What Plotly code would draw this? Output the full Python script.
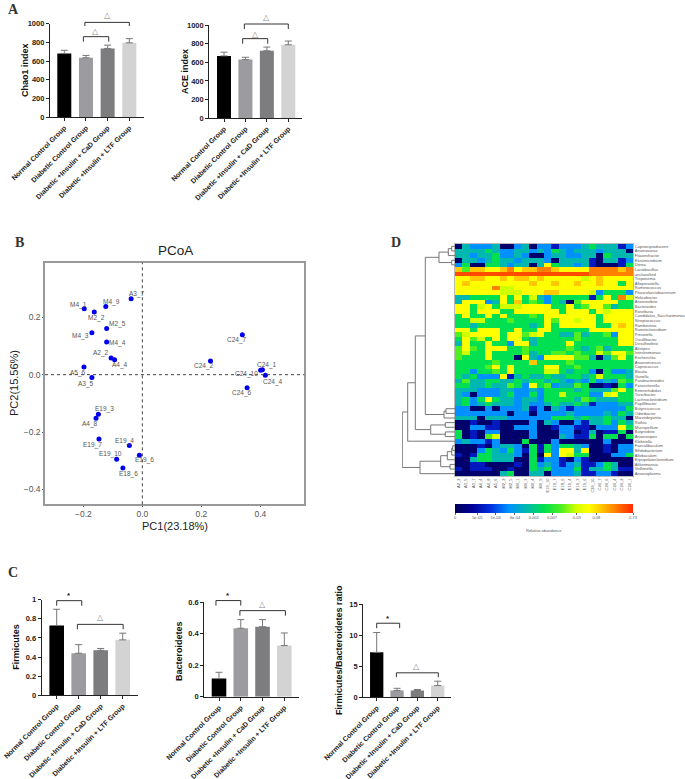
import plotly.graph_objects as go

W, H = 685, 779
FONT = "Liberation Sans"

groups = ["Normal Control Group", "Diabetic Control Group",
          "Diabetic +Insulin + CaD Group", "Diabetic +Insulin + LTF Group"]
bar_colors = ["#000000", "#9b9ba0", "#7d7d7f", "#d3d3d3"]

# panel A / C bars: means, upper error ends
chao1 = [680, 635, 735, 795]
chao1_err = [35, 25, 35, 45]
ace = [670, 630, 725, 790]
ace_err = [40, 25, 40, 40]
firmicutes = [0.73, 0.44, 0.47, 0.58]
firmicutes_err = [0.17, 0.09, 0.02, 0.07]
bacteroidetes = [0.115, 0.435, 0.445, 0.325]
bacteroidetes_err = [0.04, 0.055, 0.045, 0.08]
fb_ratio = [7.2, 1.05, 1.05, 1.85]
fb_ratio_err = [3.2, 0.35, 0.15, 0.7]

# panel B
pcoa_names = ["A3_7", "M4_9", "M4_1", "M2_2", "M2_5", "M4_3", "M4_4", "A2_2", "A4_4", "A5_6", "A3_5", "E19_3",
              "A4_8", "E19_7", "E19_4", "E19_6", "E19_10", "E18_6", "C24_7", "C24_2", "C24_1", "C24_10", "C24_4", "C24_6"]
pc1 = [-0.038, -0.124, -0.197, -0.163, -0.121, -0.171, -0.121, -0.106, -0.094, -0.198, -0.171, -0.149,
       -0.157, -0.147, -0.044, -0.010, -0.087, -0.066, 0.339, 0.231, 0.407, 0.401, 0.417, 0.355]
pc2 = [0.264, 0.237, 0.230, 0.218, 0.161, 0.146, 0.114, 0.058, 0.052, 0.027, -0.010, -0.138,
       -0.152, -0.224, -0.247, -0.281, -0.295, -0.325, 0.139, 0.048, 0.017, 0.015, -0.002, -0.046]
# label offset from its point, in px
label_dx = [6, 6, -6, 2, 11, -11, 11, -10, 5, -6, -6, 6, -6, -6, -5, 5, -6, 6, -5, -6, 5, -14, 8, -5]
label_dy = [-5, -5, -4, 6, -4, 3, 1, -5, 5, 6, 6, -5, 6, 6, -5, 5, -5, 6, 5, 5, -5, 4, 7, 5]

# panel D
samples = ["A2_2", "A3_5", "A3_7", "A4_4", "A4_8", "A5_6", "M2_2", "M2_5", "M4_1", "M4_3", "M4_4", "M4_9",
           "E19_10", "E19_7", "E18_6", "E19_4", "E19_3", "E19_6", "C24_10", "C24_7", "C24_6", "C24_4", "C24_2", "C24_1"]
genera = ["Caproiciproducens", "Anaerovorax", "Flavonifractor", "Elusimicrobium", "Dorea", "Lactobacillus",
          "unclassified", "Treponema", "Alloprevotella", "Ruminococcus", "Phascolarctobacterium", "Helicobacter",
          "Anaerovibrio", "Bacteroides", "Roseburia", "Candidatus_Saccharimonas", "Streptococcus", "Romboutsia",
          "Ruminiclostridium", "Prevotella", "Oscillibacter", "Desulfovibrio", "Alistipes", "Intestinimonas",
          "Escherichia", "Anaerotruncus", "Coprococcus", "Blautia", "Gunella", "Parabacteroides", "Parasutterella",
          "Enterorhabdus", "Turicibacter", "Lachnoclostridium", "Papillibacter", "Butyricicoccus", "Odoribacter",
          "Marvinbryantia", "Rothia", "Mucispirillum", "Butyrivibrio", "Anaerosipes", "Klebsiella", "Faecalibaculum",
          "Bifidobacterium", "Allobaculum", "Erysipelatoclostridium", "Akkermansia", "Veillonella", "Anaeroplasma"]
# colour level of each cell, 0 navy ... 10 red-orange
levels = [
    [0, 3, 2, 2, 2, 3, 0, 0, 2, 3, 0, 2, 2, 1, 2, 2, 2, 3, 4, 3, 3, 3, 1, 2],
    [3, 3, 3, 3, 4, 3, 2, 2, 3, 3, 2, 3, 2, 4, 3, 2, 3, 3, 3, 2, 3, 3, 3, 0],
    [3, 3, 2, 3, 3, 4, 2, 2, 3, 2, 0, 0, 2, 3, 3, 2, 2, 3, 3, 0, 4, 3, 3, 3],
    [0, 3, 3, 2, 3, 4, 3, 3, 2, 3, 3, 3, 2, 0, 3, 3, 3, 3, 1, 0, 3, 3, 1, 2],
    [2, 4, 0, 0, 4, 4, 3, 2, 3, 3, 0, 3, 7, 4, 3, 3, 2, 3, 1, 0, 0, 0, 1, 4],
    [8, 5, 8, 8, 7, 7, 8, 9, 7, 8, 8, 9, 9, 8, 7, 7, 7, 7, 9, 9, 9, 9, 8, 9],
    [10, 10, 10, 10, 10, 10, 10, 10, 10, 10, 10, 10, 10, 10, 10, 10, 10, 10, 9, 9, 9, 9, 9, 9],
    [7, 7, 8, 8, 7, 7, 8, 7, 8, 8, 7, 8, 7, 7, 7, 7, 7, 6, 7, 8, 7, 7, 7, 7],
    [7, 8, 7, 7, 7, 7, 7, 7, 7, 7, 8, 7, 7, 8, 7, 7, 8, 7, 7, 8, 7, 7, 4, 7],
    [7, 7, 7, 7, 7, 9, 6, 6, 7, 7, 7, 7, 7, 7, 7, 7, 7, 7, 7, 7, 7, 7, 7, 7],
    [7, 7, 7, 7, 7, 7, 6, 6, 6, 7, 7, 7, 8, 8, 7, 7, 7, 7, 6, 2, 4, 4, 4, 2],
    [3, 3, 4, 4, 4, 4, 7, 4, 7, 4, 6, 3, 2, 4, 4, 4, 4, 4, 1, 4, 7, 4, 9, 6],
    [3, 7, 7, 7, 2, 3, 7, 4, 8, 4, 5, 4, 2, 4, 3, 0, 5, 7, 7, 7, 7, 7, 4, 4],
    [7, 7, 4, 6, 7, 4, 6, 6, 6, 7, 7, 7, 7, 4, 4, 7, 4, 5, 7, 7, 5, 3, 4, 4],
    [7, 7, 4, 7, 7, 7, 4, 4, 7, 7, 7, 7, 7, 7, 4, 7, 7, 7, 4, 7, 6, 7, 7, 7],
    [4, 7, 4, 4, 7, 4, 7, 4, 4, 4, 5, 4, 7, 7, 7, 7, 7, 7, 7, 4, 7, 7, 7, 7],
    [4, 4, 6, 6, 4, 4, 4, 5, 4, 4, 4, 4, 7, 5, 7, 7, 6, 7, 7, 4, 7, 7, 7, 7],
    [4, 4, 3, 4, 4, 4, 4, 4, 4, 4, 3, 4, 7, 4, 7, 7, 7, 7, 7, 4, 4, 7, 8, 7],
    [7, 7, 4, 7, 7, 7, 4, 4, 7, 4, 4, 7, 7, 4, 4, 4, 4, 4, 7, 7, 7, 7, 7, 7],
    [5, 6, 7, 7, 7, 7, 4, 7, 7, 5, 6, 7, 4, 4, 3, 3, 5, 3, 4, 4, 5, 2, 7, 7],
    [4, 7, 5, 6, 4, 7, 4, 7, 7, 4, 3, 4, 4, 4, 4, 4, 5, 4, 4, 4, 4, 4, 7, 7],
    [3, 7, 4, 4, 7, 4, 4, 2, 7, 7, 3, 4, 4, 4, 4, 7, 4, 4, 4, 4, 4, 4, 7, 7],
    [5, 7, 5, 4, 7, 7, 7, 4, 4, 5, 4, 4, 4, 4, 4, 5, 4, 3, 4, 5, 3, 4, 4, 4],
    [5, 6, 4, 4, 7, 4, 4, 4, 4, 5, 3, 4, 4, 5, 5, 4, 5, 4, 4, 6, 5, 7, 7, 5],
    [5, 4, 4, 4, 7, 4, 4, 4, 0, 7, 3, 2, 7, 7, 7, 7, 5, 5, 3, 0, 3, 5, 7, 4],
    [4, 4, 4, 4, 4, 5, 4, 4, 4, 4, 8, 4, 4, 4, 4, 5, 4, 4, 4, 4, 4, 4, 4, 4],
    [4, 4, 4, 4, 5, 7, 4, 7, 4, 4, 4, 4, 7, 7, 4, 4, 5, 4, 4, 4, 4, 4, 4, 4],
    [4, 4, 2, 4, 4, 5, 4, 7, 4, 4, 4, 4, 6, 6, 4, 3, 4, 4, 2, 0, 4, 2, 2, 3],
    [4, 3, 4, 2, 2, 2, 7, 1, 3, 4, 3, 3, 4, 3, 3, 4, 4, 3, 4, 6, 4, 4, 4, 3],
    [3, 5, 3, 3, 4, 4, 3, 3, 4, 3, 4, 4, 3, 4, 3, 2, 3, 2, 4, 2, 3, 2, 5, 4],
    [4, 4, 3, 3, 4, 3, 3, 5, 4, 2, 7, 4, 5, 2, 3, 3, 5, 4, 0, 0, 1, 0, 4, 2],
    [3, 3, 3, 2, 2, 2, 3, 3, 2, 2, 3, 2, 4, 4, 4, 4, 3, 4, 3, 3, 3, 5, 7, 4],
    [3, 2, 0, 2, 2, 2, 3, 4, 2, 2, 4, 2, 4, 4, 6, 4, 4, 4, 2, 2, 6, 7, 4, 4],
    [3, 4, 2, 4, 7, 4, 3, 3, 2, 3, 3, 2, 4, 4, 4, 4, 3, 5, 4, 3, 3, 3, 4, 4],
    [3, 4, 2, 3, 4, 3, 3, 3, 2, 3, 2, 2, 3, 4, 3, 3, 4, 3, 1, 2, 2, 2, 3, 3],
    [2, 2, 0, 0, 2, 0, 2, 2, 2, 3, 1, 2, 0, 3, 2, 1, 2, 2, 2, 2, 2, 2, 2, 4],
    [2, 2, 2, 2, 2, 2, 2, 0, 2, 2, 0, 2, 2, 2, 2, 3, 2, 2, 2, 2, 3, 2, 4, 3],
    [3, 3, 3, 0, 3, 3, 3, 2, 2, 2, 2, 2, 2, 4, 4, 4, 3, 4, 3, 3, 4, 3, 3, 0],
    [0, 0, 1, 0, 0, 1, 0, 0, 0, 0, 2, 0, 3, 2, 0, 0, 2, 1, 3, 3, 4, 2, 4, 3],
    [0, 0, 2, 2, 1, 1, 0, 0, 2, 2, 2, 0, 0, 1, 2, 2, 1, 1, 0, 2, 2, 2, 7, 4],
    [4, 0, 1, 0, 2, 2, 0, 0, 0, 0, 2, 0, 0, 0, 2, 2, 0, 1, 3, 0, 1, 1, 4, 0],
    [4, 0, 1, 0, 5, 6, 0, 0, 0, 0, 2, 0, 0, 0, 3, 2, 1, 1, 4, 0, 4, 4, 0, 4],
    [2, 3, 2, 2, 1, 2, 0, 0, 0, 4, 0, 0, 0, 2, 0, 0, 0, 0, 0, 0, 2, 0, 0, 0],
    [0, 0, 0, 1, 0, 2, 3, 3, 2, 0, 4, 1, 4, 2, 4, 4, 3, 2, 0, 0, 1, 0, 2, 2],
    [0, 0, 0, 2, 4, 3, 2, 4, 2, 1, 4, 1, 4, 2, 7, 7, 3, 7, 0, 0, 1, 0, 2, 2],
    [1, 0, 1, 4, 4, 3, 3, 3, 2, 0, 4, 0, 7, 2, 7, 6, 4, 4, 0, 0, 0, 2, 2, 4],
    [0, 0, 3, 4, 4, 3, 3, 3, 0, 0, 4, 1, 2, 2, 1, 0, 2, 1, 0, 0, 0, 0, 0, 0],
    [0, 0, 1, 1, 0, 0, 0, 0, 1, 0, 4, 2, 3, 2, 1, 2, 3, 1, 1, 2, 4, 3, 0, 0],
    [1, 0, 1, 1, 1, 0, 0, 1, 0, 0, 4, 3, 4, 2, 2, 2, 4, 1, 3, 3, 4, 3, 1, 1],
    [0, 0, 0, 0, 0, 0, 3, 4, 0, 0, 3, 3, 0, 2, 2, 2, 3, 1, 1, 2, 2, 1, 0, 0],
]
level_pos = [0.3, 1.5, 3, 4, 5, 6, 6.8, 7.5, 8.2, 9, 9.6]
cbar_vals = [0, 1.25, 2.28, 3.37, 4.42, 5.45, 6.84, 7.94, 10]
cbar_text = ["0", "5e-05", "1e-04", "6e-04", "0.002", "0.007", "0.03", "0.08", "0.73"]
jet = [[0, "#00005a"], [0.1, "#00009a"], [0.2, "#0030e0"], [0.3, "#0090ff"], [0.4, "#00b8b0"], [0.5, "#00e050"],
       [0.6, "#50f020"], [0.68, "#d0ff00"], [0.75, "#ffff00"], [0.82, "#ffc800"], [0.9, "#ff8000"], [1, "#ff2800"]]

# dendrogram: (height, left, right), leaves are row numbers
d_top = (16, (6.7, (3.3, 0, 1), 2), (3.3, 3, 4))
d_mid = (11, (9, 35, 36), 37)
d_roth = (24.3, (9.7, 38, 39), (9.7, 40, 41))
d_low = (35, (14.3, (7.7, (3.3, (2.3, 43, 44), 45), 46), (5, 47, 48)), 49)
dendro = (52.7, (47.3, (39.7, (29.7, d_top, d_mid), d_roth), 42), d_low)

fig = go.Figure()
layout = {}
notes = []


def dom_x(a, b):
    return [a / W, b / W]


def dom_y(top, bottom):
    return [1 - bottom / H, 1 - top / H]


def text(x, y, s, size, color="#222222", bold=False, angle=0, family=FONT, xref="paper", yref="paper", **kw):
    if xref == "paper":
        x = x / W
    if yref == "paper":
        y = 1 - y / H
    notes.append(dict(x=x, y=y, xref=xref, yref=yref, text=s, showarrow=False, textangle=angle,
                      xanchor=kw.pop("xanchor", "center"), yanchor="middle",
                      font=dict(family=family, size=size, color=color, weight=700 if bold else 400), **kw))


def bar_panel(n, vals, errs, box, x0, sp, ymax, yticks, title, title_x, title_y, bar_w, brackets, marks):
    left, right, top, bottom = box
    xa, ya = f"x{n}", f"y{n}"
    # brackets sit above the visible axis, so they get a hidden taller subplot in the same units
    xa2, ya2 = f"x{n + 20}", f"y{n + 20}"
    pad = 20
    xrange = [(left - x0) / sp, (right - x0) / sp]
    fig.add_trace(go.Bar(x=list(range(4)), y=vals, width=bar_w / sp, xaxis=xa, yaxis=ya,
                         marker=dict(color=bar_colors, line=dict(width=0)),
                         error_y=dict(type="data", symmetric=False, array=errs, arrayminus=[0] * 4,
                                      color="#777777", thickness=1, width=3.5)))
    for bx1, bx2, by1, by2 in brackets:
        fig.add_trace(go.Scatter(x=[bx1, bx1, bx2, bx2], y=[by2, by1, by1, by2], mode="lines", xaxis=xa2, yaxis=ya2,
                                 line=dict(color="#333333", width=1)))
    for mx, my, s in marks:
        if s == "*":
            text(mx, my, s, 8, "#222222", True, xref=xa2, yref=ya2)
        else:
            text(mx, my, s, 8, "#888888", family="DejaVu Sans", xref=xa2, yref=ya2)
    layout[f"xaxis{n}"] = dict(domain=dom_x(left, right), anchor=ya, range=xrange,
                               tickvals=list(range(4)), ticktext=groups, tickangle=-45, ticks="outside", ticklen=3,
                               tickcolor="#222222", showline=True, linecolor="#222222", linewidth=1.2,
                               showgrid=False, zeroline=False,
                               tickfont=dict(family=FONT, size=7, color="#222222", weight=700))
    layout[f"yaxis{n}"] = dict(domain=dom_y(top, bottom), anchor=xa, range=[0, ymax], tickvals=yticks,
                               ticks="outside", ticklen=3, tickcolor="#222222", showline=True, linecolor="#222222",
                               linewidth=1.2, showgrid=False, zeroline=False,
                               tickfont=dict(family=FONT, size=7.5, color="#222222", weight=700))
    layout[f"xaxis{n + 20}"] = dict(domain=dom_x(left, right), anchor=ya2, range=xrange, visible=False)
    layout[f"yaxis{n + 20}"] = dict(domain=dom_y(top - pad, bottom), anchor=xa2, visible=False,
                                    range=[0, ymax * (bottom - top + pad) / (bottom - top)])
    text(title_x, title_y, title, 9, "#111111", True, angle=-90)


bar_panel(1, chao1, chao1_err, (50, 144, 23.7, 117), 64.3, 21.67, 1000, [0, 200, 400, 600, 800, 1000],
          "Chao1 index", 25, 70, 14,
          [(0.95, 3.0, 1014, 975), (0.88, 2.05, 861, 807)],
          [(1.98, 1086, "△"), (1.46, 911, "△")])
bar_panel(2, ace, ace_err, (209.3, 302, 25.3, 118), 224, 21.43, 1000, [0, 200, 400, 600, 800, 1000],
          "ACE index", 185, 72, 14,
          [(0.95, 3.0, 1014, 960), (0.87, 2.04, 856, 802)],
          [(1.96, 1079, "△"), (1.45, 906, "△")])
bar_panel(6, firmicutes, firmicutes_err, (41.7, 137.7, 599.7, 695.3), 56.7, 22, 1.0, [0, 0.2, 0.4, 0.6, 0.8, 1.0],
          "Firmicutes", 15.7, 647, 14.6,
          [(0, 1.14, 0.99, 0.937), (0.94, 3.02, 0.742, 0.69)],
          [(0.56, 1.04, "*"), (1.97, 0.815, "△")])
bar_panel(7, bacteroidetes, bacteroidetes_err, (204.3, 299, 602.3, 696.7), 219, 21.77, 0.6, [0, 0.2, 0.4, 0.6],
          "Bacteroidetes", 179, 651, 14.6,
          [(-0.14, 1.0, 0.611, 0.579), (0.96, 3.05, 0.547, 0.515)],
          [(0.41, 0.642, "*"), (2.0, 0.587, "△")])
bar_panel(8, fb_ratio, fb_ratio_err, (363.3, 451, 604, 697), 376.7, 20.33, 15, [0, 5, 10, 15],
          "Firmicutes/Bacteroidetes ratio", 339, 650, 13.3,
          [(0, 1.13, 11.9, 11.1), (0.97, 3.03, 3.9, 3.2)],
          [(0.56, 12.7, "*"), (1.98, 5.0, "△")])

# PCoA
fig.add_trace(go.Scatter(x=pc1, y=pc2, mode="markers", xaxis="x3", yaxis="y3",
                         marker=dict(color="#0000ee", size=5)))
for nm, px, py, dx, dy in zip(pcoa_names, pc1, pc2, label_dx, label_dy):
    text(px, py, nm, 6.5, "#555555", xref="x3", yref="y3", xshift=dx, yshift=-dy)
frame = dict(showline=True, mirror=True, linecolor="#999999", linewidth=1.5, ticks="outside", ticklen=1,
             tickcolor="#555555", showgrid=False, zeroline=False, tickformat=".1f",
             tickfont=dict(family=FONT, size=8.5, color="#555555"))
layout["xaxis3"] = dict(frame, domain=dom_x(45, 304.3), anchor="y3", range=[-0.33, 0.549], tickvals=[-0.2, 0, 0.2, 0.4])
layout["yaxis3"] = dict(frame, domain=dom_y(262.7, 504.3), anchor="x3", range=[-0.4516, 0.39], tickvals=[-0.4, -0.2, 0, 0.2])
shapes = [
    dict(type="line", xref="x3 domain", yref="y3", x0=0, x1=1, y0=0, y1=0, line=dict(color="#444444", width=1, dash="dot")),
    dict(type="line", xref="x3", yref="y3 domain", x0=0, x1=0, y0=0, y1=1, line=dict(color="#444444", width=1, dash="dot")),
]
text(175, 251, "PCoA", 13.5, "#222222")
text(175, 526, "PC1(23.18%)", 11, "#222222")
text(14, 383, "PC2(15.56%)", 11, "#222222", angle=-90)

# heatmap
z = [[level_pos[v] for v in row] for row in levels]
fig.add_trace(go.Heatmap(z=z, x=list(range(24)), y=list(range(50)), xaxis="x4", yaxis="y4", zmin=0, zmax=10,
                         colorscale=jet, xgap=0, ygap=0,
                         colorbar=dict(orientation="h", x=544 / W, xanchor="center", y=1 - 504 / H, yanchor="top",
                                       thickness=9.3, thicknessmode="pixels", len=178, lenmode="pixels",
                                       xpad=0, ypad=0, outlinewidth=0, tickmode="array", tickvals=cbar_vals,
                                       ticktext=cbar_text, ticks="outside", ticklen=2, tickcolor="#666666",
                                       tickfont=dict(family=FONT, size=4, color="#555555"))))
layout["xaxis4"] = dict(domain=dom_x(455, 633), anchor="y4", range=[-0.5, 23.5], tickvals=list(range(24)),
                        ticktext=samples, tickangle=-90, ticks="", showline=True, mirror=True, linecolor="#bbbbbb",
                        linewidth=1, showgrid=False, zeroline=False,
                        tickfont=dict(family=FONT, size=4, color="#555555"))
layout["yaxis4"] = dict(domain=dom_y(244, 476), anchor="x4", side="right", range=[49.5, -0.5], tickvals=list(range(50)),
                        ticktext=genera, ticks="", showline=True, mirror=True, linecolor="#bbbbbb", linewidth=1,
                        showgrid=False, zeroline=False, tickfont=dict(family=FONT, size=4, color="#555555"))
text(544, 530, "Relative abundance", 4, "#555555")


# dendrogram, on its own subplot with the heatmap's row scale
def walk(node, xs, ys):
    if isinstance(node, int):
        return 0, node
    h, a, b = node
    ha, ya = walk(a, xs, ys)
    hb, yb = walk(b, xs, ys)
    xs += [ha, h, h, hb, None]
    ys += [ya, ya, yb, yb, None]
    return h, (ya + yb) / 2


dx, dy = [], []
walk(dendro, dx, dy)
fig.add_trace(go.Scatter(x=dx, y=dy, mode="lines", xaxis="x5", yaxis="y5", cliponaxis=False,
                         line=dict(color="#777777", width=1)))
layout["xaxis5"] = dict(domain=dom_x(402, 455), anchor="y5", range=[53, 0], visible=False)
layout["yaxis5"] = dict(domain=dom_y(244, 476), anchor="x5", range=[49.5, -0.5], visible=False)

# panel letters
for lx, ly, s in [(13, 9, "A"), (19, 243, "B"), (13, 572, "C"), (396, 242, "D")]:
    text(lx, ly, s, 14, "#333333", True, family="Liberation Serif")

# the bracket subplots overlap the bars, so plot backgrounds stay see-through
fig.update_layout(width=W, height=H, margin=dict(l=0, r=0, t=0, b=0, autoexpand=False), showlegend=False,
                  paper_bgcolor="white", plot_bgcolor="rgba(0,0,0,0)", annotations=notes, shapes=shapes, **layout)
fig.write_html("out.html", config={"displayModeBar": False},
               post_script="document.body.style.margin='0';document.body.style.overflow='hidden';")
